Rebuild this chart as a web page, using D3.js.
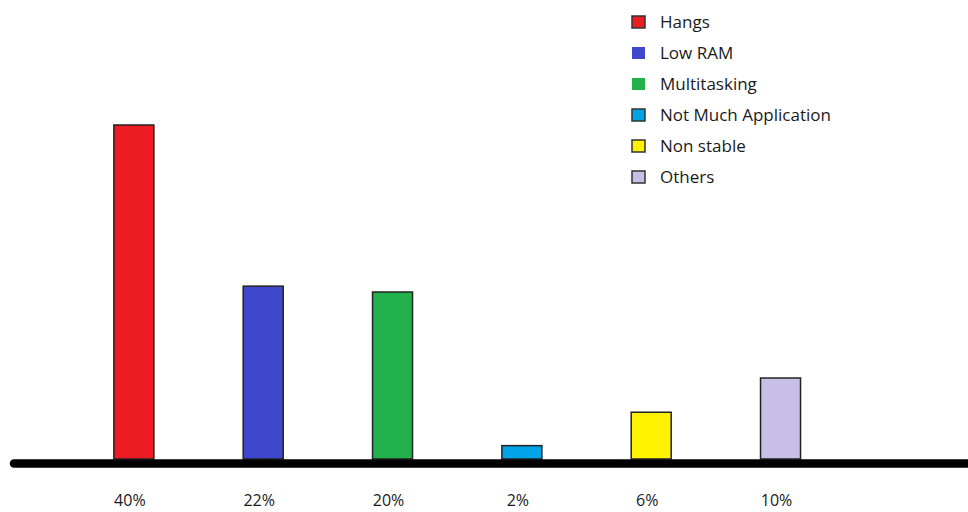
<!DOCTYPE html>
<html>
<head>
<meta charset="utf-8">
<script src="https://cdn.jsdelivr.net/npm/d3@7"></script>
<style>
  body { margin: 0; background: #fff; }
  text { font-family: "Open Sans", sans-serif; fill: #1a1a1a; }
</style>
</head>
<body>
<script>
var width = 968;
var height = 512;

// problems people reported, with the share each bar shows
var categories = ["Hangs", "Low RAM", "Multitasking", "Not Much Application", "Non stable", "Others"];
var shares = [40, 20.7, 20, 1.6, 5.6, 9.7];          // bar heights as drawn
var shareLabels = ["40%", "22%", "20%", "2%", "6%", "10%"];
var colors = ["#ED1C24", "#3F48CC", "#22B14C", "#00A2E8", "#FFF200", "#C8BFE7"];
var legendBorder = [true, false, false, true, true, true];

var svg = d3.select("body").append("svg")
    .attr("width", width)
    .attr("height", height);

var x = d3.scalePoint()
    .domain(categories)
    .range([69.2, 845.2])
    .padding(0.5);

var y = d3.scaleLinear()
    .domain([0, 40])
    .range([459, 125]);

var color = d3.scaleOrdinal()
    .domain(categories)
    .range(colors);

var barWidth = 40;

svg.selectAll(".bar")
  .data(categories)
  .enter()
    .append("rect")
    .attr("class", "bar")
    .attr("x", (d) => x(d) - barWidth / 2)
    .attr("y", (d, i) => y(shares[i]))
    .attr("width", barWidth)
    .attr("height", (d, i) => y(0) - y(shares[i]))
    .attr("fill", (d) => color(d))
    .attr("stroke", "#222")
    .attr("stroke-width", 1.5);

// thick base line
svg.append("line")
    .attr("x1", 14)
    .attr("x2", width + 10)
    .attr("y1", y(0) + 4.5)
    .attr("y2", y(0) + 4.5)
    .attr("stroke", "#000")
    .attr("stroke-width", 8.5)
    .attr("stroke-linecap", "round");

svg.selectAll(".share")
  .data(categories)
  .enter()
    .append("text")
    .attr("class", "share")
    .attr("x", (d) => x(d) - 4)
    .attr("y", 506)
    .attr("text-anchor", "middle")
    .style("font-size", "16px")
    .text((d, i) => shareLabels[i]);

// legend
var ly = d3.scalePoint()
    .domain(categories)
    .range([22, 177]);

var legend = svg.selectAll(".legend")
  .data(categories)
  .enter()
    .append("g")
    .attr("class", "legend")
    .attr("transform", (d) => "translate(632," + ly(d) + ")");

legend.append("rect")
    .attr("x", 0)
    .attr("y", -6)
    .attr("width", 13)
    .attr("height", 12)
    .attr("fill", (d) => color(d))
    .attr("stroke", (d, i) => legendBorder[i] ? "#333" : "none")
    .attr("stroke-width", 1.5);

legend.append("text")
    .attr("x", 28)
    .attr("dy", "0.36em")
    .style("font-size", "17px")
    .text((d) => d);
</script>
</body>
</html>
